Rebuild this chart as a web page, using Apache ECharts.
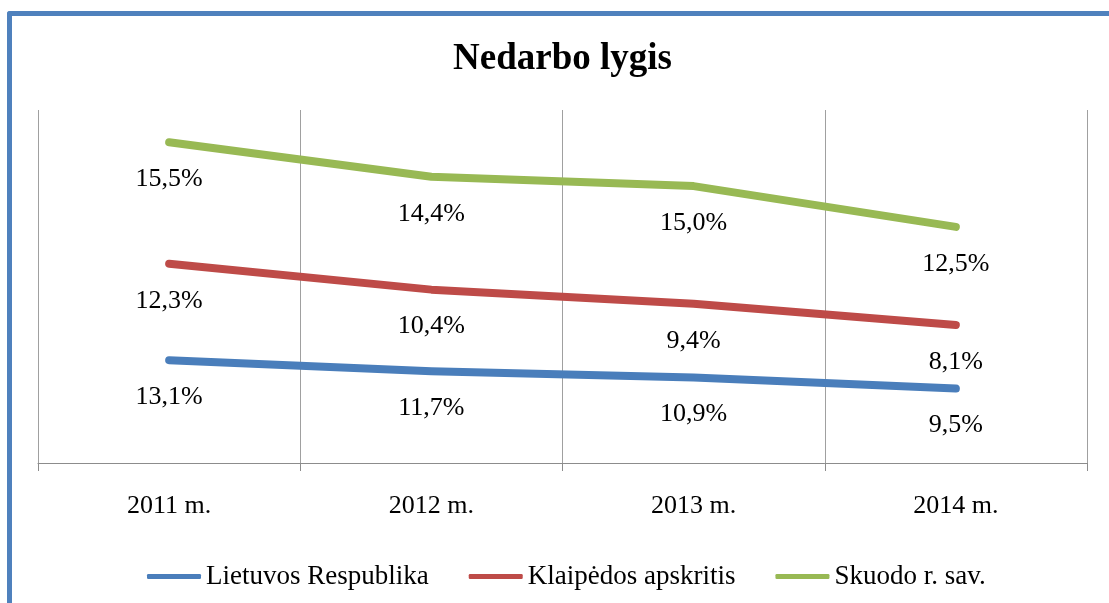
<!DOCTYPE html>
<html>
<head>
<meta charset="UTF-8">
<title>Nedarbo lygis</title>
<script src="https://cdn.jsdelivr.net/npm/echarts@6/dist/echarts.min.js"></script>
<style>
    html, body { margin: 0; padding: 0; background: #fff; overflow: hidden; }
    #frame {
        position: absolute; left: 7px; top: 11px; width: 1200px; height: 700px;
        border-left: 5px solid #4f81bd; border-top: 5px solid #4f81bd;
        border-radius: 3px 0 0 0;
    }
    #chart { position: absolute; left: 0; top: 0; width: 1109px; height: 603px; }
</style>
</head>
<body>
<div id="frame"></div>
<div id="chart"></div>
<script type="text/javascript">
    var years = ['2011 m.', '2012 m.', '2013 m.', '2014 m.'];
    var names = ['Lietuvos Respublika', 'Klaipėdos apskritis', 'Skuodo r. sav.'];
    var lietuva = [13.1, 11.7, 10.9, 9.5];
    var klaipeda = [12.3, 10.4, 9.4, 8.1];
    var skuodas = [15.5, 14.4, 15.0, 12.5];
    var colors = ['#4a7ebb', '#be4b48', '#98b954'];

    var font = 'Liberation Serif';

    function fmt(p) {
        return Number(p.value).toFixed(1).replace('.', ',') + '%';
    }

    function makeSeries(name, data, color) {
        return {
            name: name,
            type: 'line',
            stack: 'total',
            data: data,
            symbol: 'circle',
            symbolSize: 2,
            showSymbol: true,
            lineStyle: { width: 8, color: color, cap: 'round', join: 'round' },
            itemStyle: { color: color },
            label: {
                show: true,
                position: 'bottom',
                distance: 23,
                fontFamily: font,
                fontSize: 26,
                color: '#000',
                formatter: fmt
            }
        };
    }

    var myChart = echarts.init(document.getElementById('chart'));
    var option = {
        animation: false,
        title: {
            text: 'Nedarbo lygis',
            left: 448,
            top: 36,
            textStyle: { fontFamily: font, fontSize: 37, fontWeight: 'bold', color: '#000' }
        },
        legend: {
            data: names,
            orient: 'horizontal',
            left: 147,
            top: 563,
            padding: 0,
            icon: 'roundRect',
            itemWidth: 54,
            itemHeight: 5,
            itemGap: 40,
            textStyle: { fontFamily: font, fontSize: 27, color: '#000' }
        },
        grid: { left: 38, right: 22, top: 110, bottom: 140 },
        xAxis: {
            type: 'category',
            data: years,
            boundaryGap: true,
            axisLine: { lineStyle: { color: '#8c8c8c', width: 1 } },
            axisTick: { show: true, length: 8, lineStyle: { color: '#8c8c8c' } },
            splitLine: { show: true, lineStyle: { color: '#a0a0a0', width: 1 } },
            axisLabel: { margin: 30, fontFamily: font, fontSize: 26, color: '#000' }
        },
        yAxis: {
            type: 'value',
            min: 0,
            max: 45,
            show: false,
            splitLine: { show: false }
        },
        series: [
            makeSeries(names[0], lietuva, colors[0]),
            makeSeries(names[1], klaipeda, colors[1]),
            makeSeries(names[2], skuodas, colors[2])
        ]
    };
    myChart.setOption(option);
</script>
</body>
</html>
